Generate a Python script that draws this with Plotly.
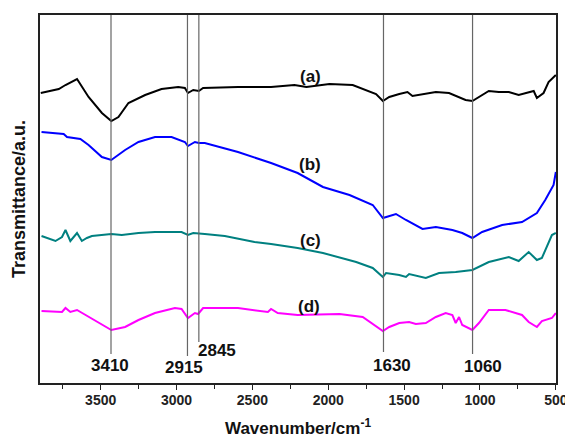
import plotly.graph_objects as go

# ---- data (wavenumber in cm^-1, transmittance in arbitrary units) ----
wn_a = [3895, 3776, 3732, 3656, 3580, 3492, 3430, 3383, 3317, 3207, 3099, 2989, 2945, 2925,
        2890, 2853, 2825, 2595, 2377, 2223, 2144, 1992, 1839, 1751, 1685, 1640, 1598, 1532,
        1478, 1445, 1379, 1291, 1204, 1138, 1095, 1050, 1007, 942, 876, 810, 745, 679, 646,
        625, 581, 548, 515, 500]
t_a = [290, 294, 298, 304, 286, 270, 262, 266, 280, 288, 294, 296, 295, 290,
       293, 292, 295, 296, 296, 298, 296, 299, 298, 293, 289, 282, 286, 289,
       291, 287, 289, 291, 290, 286, 283, 282, 286, 292, 291, 291, 288, 291, 292,
       285, 290, 301, 306, 308]

wn_b = [3890, 3800, 3744, 3722, 3680, 3634, 3580, 3492, 3430, 3339, 3251, 3142, 3033, 2945,
        2925, 2879, 2853, 2814, 2595, 2377, 2202, 2035, 1860, 1707, 1640, 1554, 1488, 1379,
        1291, 1182, 1117, 1050, 986, 854, 723, 625, 570, 515, 500]
t_b = [251, 250, 249, 246, 245, 244, 238, 226, 223, 233, 241, 246, 246, 241,
       237, 241, 240, 240, 231, 220, 210, 196, 188, 178, 165, 169, 163, 154,
       156, 153, 150, 145, 151, 158, 161, 170, 183, 198, 211]

wn_c = [3890, 3798, 3755, 3732, 3700, 3656, 3624, 3591, 3558, 3430, 3361, 3251, 3142, 2967,
        2925, 2890, 2814, 2682, 2486, 2377, 2202, 2035, 1816, 1707, 1640, 1619, 1532, 1488,
        1467, 1357, 1270, 1160, 1050, 942, 810, 745, 679, 625, 592, 526, 500]
t_c = [147, 142, 146, 153, 142, 150, 142, 145, 147, 149, 148, 150, 151, 151,
       148, 150, 149, 147, 141, 139, 135, 130, 121, 115, 106, 110, 108, 106,
       109, 105, 110, 111, 113, 121, 126, 122, 131, 123, 125, 148, 150]

wn_d = [3890, 3755, 3732, 3700, 3656, 3580, 3430, 3339, 3251, 3142, 3011, 2967, 2925, 2879,
        2858, 2825, 2595, 2398, 2377, 2333, 2202, 1926, 1773, 1640, 1598, 1532, 1467, 1423,
        1357, 1291, 1226, 1182, 1160, 1138, 1117, 1050, 1007, 942, 832, 723, 679, 625, 592,
        526, 500]
t_d = [72, 71, 75, 71, 73, 66, 53, 56, 63, 70, 75, 74, 65, 70,
       69, 75, 75, 71, 74, 70, 68, 69, 66, 52, 56, 60, 61, 59,
       60, 66, 70, 68, 60, 66, 58, 53, 60, 73, 73, 68, 61, 56, 62,
       65, 70]

series_names = ["(a)", "(b)", "(c)", "(d)"]
series_colors = ["#000000", "#0000ff", "#008080", "#ff00ff"]
label_wn = [2120, 2122, 2115, 2130]
label_t = [307, 219, 143, 77]

peak_text = ["3410", "2915", "2845", "1630", "1060"]
peak_line_wn = [3432, 2928, 2853, 1636, 1049]
peak_line_bottom = [29, 27, 41, 31, 29]
peak_label_wn = [3436, 2954, 2732, 1577, 978]
peak_label_t = [18, 16, 33, 18, 17]

x_ticks = [3500, 3000, 2500, 2000, 1500, 1000, 500]
x_range = [3900, 499]
y_range = [0, 368]

fig = go.Figure()
for wn, t, name, col in zip([wn_a, wn_b, wn_c, wn_d], [t_a, t_b, t_c, t_d],
                            series_names, series_colors):
    fig.add_trace(go.Scatter(x=wn, y=t, mode="lines", name=name,
                             line=dict(color=col, width=2), showlegend=False))

for name, x, y in zip(series_names, label_wn, label_t):
    fig.add_annotation(x=x, y=y, text=name, showarrow=False,
                       font=dict(family="Arial", size=17, color="#111", weight="bold"))

for x, yb in zip(peak_line_wn, peak_line_bottom):
    fig.add_shape(type="line", x0=x, x1=x, y0=yb, y1=y_range[1], xref="x", yref="y",
                  line=dict(color="#666666", width=1.2))

for txt, x, y in zip(peak_text, peak_label_wn, peak_label_t):
    fig.add_annotation(x=x, y=y, text=txt, showarrow=False,
                       font=dict(family="Arial", size=17, color="#111", weight="bold"))

# x-axis title placed just below the tick labels
fig.add_annotation(x=0.5, y=0, xref="paper", yref="paper", yanchor="middle", yshift=-44,
                   text="Wavenumber/cm<sup>-1</sup>", showarrow=False,
                   font=dict(family="Arial", size=17, color="#111", weight="bold"))

fig.update_layout(
    width=565, height=437,
    margin=dict(l=40, r=7, t=15, b=54),
    paper_bgcolor="white", plot_bgcolor="white",
    xaxis=dict(range=x_range, tickvals=x_ticks, ticks="outside", ticklen=5, tickwidth=1.3,
               tickcolor="#222", showgrid=False, zeroline=False, showline=True,
               linecolor="#222", linewidth=1.5, mirror=True, automargin=False,
               ticklabeloverflow="allow", ticklabelstandoff=-2,
               tickfont=dict(family="Arial", size=14, color="#222", weight="bold"),
               minor=dict(ticks="outside", ticklen=4, dtick=250, tickcolor="#222", tickwidth=1.3)),
    yaxis=dict(range=y_range, showticklabels=False, ticks="", showgrid=False, zeroline=False,
               showline=True, linecolor="#222", linewidth=1.5, mirror=True,
               title=dict(text="Transmittance/a.u.", standoff=8,
                          font=dict(family="Arial", size=18, color="#111", weight="bold"))),
)

fig.write_html("out.html")
